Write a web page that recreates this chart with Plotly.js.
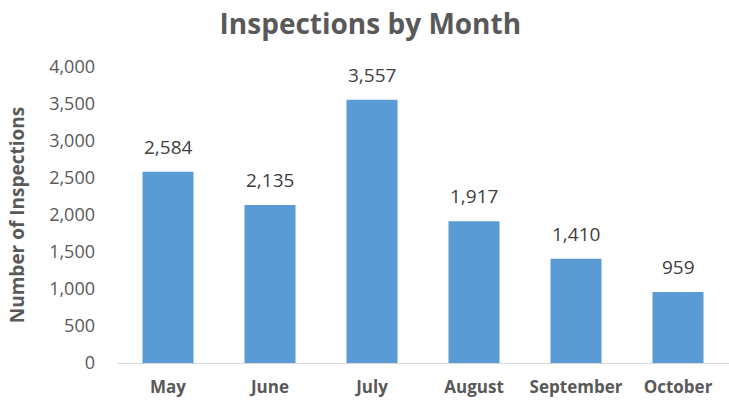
<!DOCTYPE html>
<html>
<head>
<meta charset="utf-8">
<script src="https://cdn.plot.ly/plotly-3.0.1.min.js"></script>
<style>
html,body{margin:0;padding:0;background:#fff;}
#chart{width:729px;height:402px;}
</style>
</head>
<body>
<div id="chart"></div>
<script>
const months = ["May", "June", "July", "August", "September", "October"];
const inspections = [2584, 2135, 3557, 1917, 1410, 959];
const yTickVals = [0, 500, 1000, 1500, 2000, 2500, 3000, 3500, 4000];

const gray = "#595959";
const fontFam = "Open Sans, Noto Sans, sans-serif";

const trace = {
  type: "bar",
  x: months,
  y: inspections,
  marker: {color: "#5B9BD5"},
  hoverinfo: "x+y"
};

const annotations = months.map((m, i) => ({
  x: m,
  y: inspections[i],
  xref: "x",
  yref: "y",
  text: inspections[i].toLocaleString("en-US"),
  showarrow: false,
  yanchor: "bottom",
  yshift: 10,
  font: {family: fontFam, size: 19, color: "#404040"}
}));

const layout = {
  width: 729,
  height: 402,
  margin: {l: 117, r: 0, t: 67, b: 39},
  paper_bgcolor: "#ffffff",
  plot_bgcolor: "#ffffff",
  bargap: 0.5,
  showlegend: false,
  title: {
    text: "<b>Inspections by Month</b>",
    x: 0.508,
    xanchor: "center",
    y: 0.94,
    yanchor: "middle",
    font: {family: fontFam, size: 28, color: gray}
  },
  xaxis: {
    type: "category",
    showgrid: false,
    showline: true,
    linecolor: "#D9D9D9",
    linewidth: 1,
    ticks: "",
    ticklabelstandoff: 9,
    tickfont: {family: fontFam, size: 17, color: gray, weight: "bold"},
    zeroline: false
  },
  yaxis: {
    range: [0, 4000],
    tickvals: yTickVals,
    ticktext: yTickVals.map(v => v.toLocaleString("en-US")),
    showgrid: false,
    zeroline: false,
    showline: false,
    ticks: "",
    ticklabelstandoff: 21,
    tickfont: {family: fontFam, size: 18, color: gray},
    title: {
      text: "<b>Number of Inspections</b>",
      standoff: 19,
      font: {family: fontFam, size: 19, color: gray}
    }
  },
  annotations: annotations
};

Plotly.newPlot("chart", [trace], layout, {displayModeBar: false, staticPlot: true});
</script>
</body>
</html>
